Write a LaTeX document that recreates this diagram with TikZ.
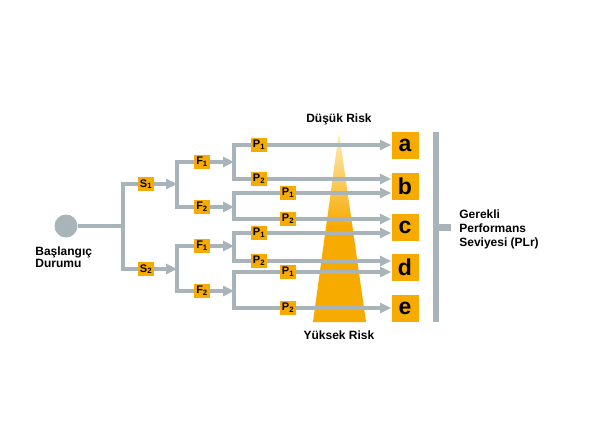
\documentclass[tikz,border=0pt]{standalone}
\usepackage{fontspec}
\setmainfont{Liberation Sans}
\usetikzlibrary{arrows.meta}
\definecolor{linegray}{RGB}{168,180,185}
\definecolor{amber}{RGB}{247,170,0}
\definecolor{paleamber}{RGB}{255,238,190}
\tikzset{every picture/.style={line width=0.75pt}}

\begin{document}
\begin{tikzpicture}[x=1pt,y=1pt,yscale=-1,xscale=1,
  conn/.style={draw=linegray,line width=3.5pt,line join=miter},
  arr/.style={conn,-{Triangle[length=11pt,width=10pt]}},
  tag/.style={fill=amber,minimum width=16pt,minimum height=14pt,inner sep=0pt,font=\bfseries\fontsize{11}{11}\selectfont},
  levelbox/.style={fill=amber,minimum size=27pt,inner sep=0pt,font=\bfseries\fontsize{23}{23}\selectfont},
  lbl/.style={font=\bfseries\fontsize{12}{12.5}\selectfont,align=left,inner sep=0pt}]
\useasboundingbox (0,0) rectangle (590,434);

%Shape: Triangle (risk scale)
\shade [top color=paleamber,bottom color=amber,middle color=amber] (339,132) -- (366,322) -- (313,322) -- cycle ;

% Start circle
\node (start) [circle,fill=linegray,minimum size=23pt,inner sep=0pt] at (66,226) {};
\node (startlbl) [lbl,anchor=west] at (35,257) {Başlangıç\\Durumu};

% S nodes
\node (S1) [tag] at (146,184) {S\textsubscript{1}};
\node (S2) [tag] at (146,269) {S\textsubscript{2}};
% F nodes
\node (F11) [tag] at (202,162) {F\textsubscript{1}};
\node (F12) [tag] at (202,207) {F\textsubscript{2}};
\node (F21) [tag] at (202,246) {F\textsubscript{1}};
\node (F22) [tag] at (202,291) {F\textsubscript{2}};

% result boxes
\node (a) [levelbox] at (405,145) {a};
\node (b) [levelbox] at (405,186) {b};
\node (c) [levelbox] at (405,227) {c};
\node (d) [levelbox] at (405,267) {d};
\node (e) [levelbox] at (405,308) {e};

% junction points
\coordinate (j0) at (123,226);
\coordinate (jS1) at (123,184);
\coordinate (jS2) at (123,269);
\coordinate (jF1) at (177,162);
\coordinate (jF2) at (177,207);
\coordinate (jF3) at (177,246);
\coordinate (jF4) at (177,291);
\coordinate (jA1) at (234,145);
\coordinate (jA2) at (234,179);
\coordinate (jB1) at (234,193);
\coordinate (jB2) at (234,219);
\coordinate (jC1) at (234,233);
\coordinate (jC2) at (234,261);
\coordinate (jD1) at (234,272);
\coordinate (jD2) at (234,308);

%Straight Lines: start -> S
\draw [conn] (start) -- (j0) ;
\draw [conn] (S1) -- (jS1) -- (jS2) -- (S2) ;
%Straight Lines: S -> F
\draw [arr] (S1) -- (S1 -| jF1) ;
\draw [arr] (S2) -- (S2 -| jF3) ;
\draw [conn] (F11) -- (jF1) -- (jF2) -- (F12) ;
\draw [conn] (F21) -- (jF3) -- (jF4) -- (F22) ;
%Straight Lines: F -> P
\draw [arr] (F11) -- (F11 -| jA1) ;
\draw [arr] (F12) -- (F12 -| jB1) ;
\draw [arr] (F21) -- (F21 -| jC1) ;
\draw [arr] (F22) -- (F22 -| jD1) ;

% P nodes
\node (PA1) [tag] at (259,145) {P\textsubscript{1}};
\node (PA2) [tag] at (259,179) {P\textsubscript{2}};
\node (PB1) [tag] at (288,193) {P\textsubscript{1}};
\node (PB2) [tag] at (288,219) {P\textsubscript{2}};
\node (PC1) [tag] at (259,233) {P\textsubscript{1}};
\node (PC2) [tag] at (259,261) {P\textsubscript{2}};
\node (PD1) [tag] at (288,272) {P\textsubscript{1}};
\node (PD2) [tag] at (288,308) {P\textsubscript{2}};

\draw [conn] (PA1) -- (jA1) -- (jA2) -- (PA2) ;
\draw [conn] (PB1) -- (jB1) -- (jB2) -- (PB2) ;
\draw [conn] (PC1) -- (jC1) -- (jC2) -- (PC2) ;
\draw [conn] (PD1) -- (jD1) -- (jD2) -- (PD2) ;
%Straight Lines: P -> result
\draw [arr] (PA1) -- (PA1 -| a.west) ;
\draw [arr] (PA2) -- (PA2 -| b.west) ;
\draw [arr] (PB1) -- (PB1 -| b.west) ;
\draw [arr] (PB2) -- (PB2 -| c.west) ;
\draw [arr] (PC1) -- (PC1 -| c.west) ;
\draw [arr] (PC2) -- (PC2 -| d.west) ;
\draw [arr] (PD1) -- (PD1 -| d.west) ;
\draw [arr] (PD2) -- (PD2 -| e.west) ;

% Text Node
\node (low) [lbl] at (339,119) {Düşük Risk};
% Text Node
\node (high) [lbl] at (339,335) {Yüksek Risk};

%Bracket
\coordinate (brtop) at (436,132);
\coordinate (brbot) at (436,322);
\coordinate (brmid) at (436,227);
\node (plr) [lbl,anchor=west,font=\bfseries\fontsize{12}{14}\selectfont] at (459,229) {Gerekli\\Performans\\Seviyesi (PLr)};
\draw [draw=linegray,line width=6pt] (brtop) -- (brbot) ;
\draw [draw=linegray,line width=7pt] (brmid) -- ++(15,0) ;

\end{tikzpicture}
\end{document}
